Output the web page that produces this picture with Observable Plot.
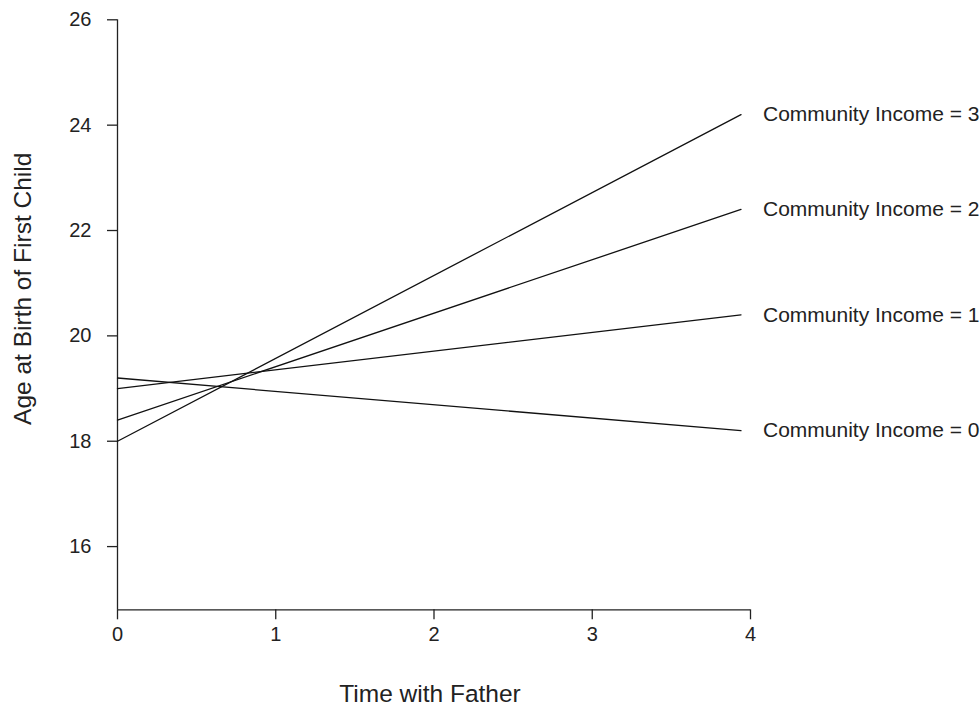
<!DOCTYPE html>
<html>
<head>
<meta charset="utf-8">
<script src="https://cdn.jsdelivr.net/npm/d3@7"></script>
<script src="https://cdn.jsdelivr.net/npm/@observablehq/plot@0.6"></script>
<style>
  html, body { margin: 0; padding: 0; background: #fff; }
  #chart { width: 980px; height: 706px; }
</style>
</head>
<body>
<div id="chart"></div>
<script>
// Data
const incomeLevels = [0, 1, 2, 3];
const ageAtStart = [19.2, 19.0, 18.4, 18.0];   // age at Time with Father = 0
const ageAtEnd = [18.2, 20.4, 22.4, 24.2];     // age at Time with Father = timeEnd
const timeStart = 0;
const timeEnd = 3.94;
const xTicks = [0, 1, 2, 3, 4];
const yTicks = [16, 18, 20, 22, 24, 26];
const xDomain = [0, 4];
const yDomain = [14.8, 26];

const rows = incomeLevels.flatMap((inc, i) => [
  {income: inc, time: timeStart, age: ageAtStart[i]},
  {income: inc, time: timeEnd, age: ageAtEnd[i]}
]);
const endRows = incomeLevels.map((inc, i) => ({
  income: inc, time: timeEnd, age: ageAtEnd[i], label: `Community Income = ${inc}`
}));

const ink = "#222";

const chart = Plot.plot({
  width: 980,
  height: 706,
  marginLeft: 117,
  marginRight: 230,
  marginTop: 19.3,
  marginBottom: 96.7,
  x: {domain: xDomain},
  y: {domain: yDomain},
  style: {fontFamily: "'Liberation Sans', Arial, sans-serif", background: "#fff", color: ink, overflow: "visible"},
  marks: [
    Plot.ruleX([xDomain[0]], {y1: yDomain[0], y2: yDomain[1], stroke: ink, strokeWidth: 1.3}),
    Plot.ruleY([yDomain[0]], {x1: xDomain[0], x2: xDomain[1], stroke: ink, strokeWidth: 1.3}),
    Plot.axisX({ticks: xTicks, tickSize: 10, tickPadding: 7, fontSize: 20, label: null, stroke: ink, strokeWidth: 1.3, tickFormat: d => String(d)}),
    Plot.axisY({ticks: yTicks, tickSize: 10, tickPadding: 16, fontSize: 20, label: null, stroke: ink, strokeWidth: 1.3, tickFormat: d => String(d)}),
    Plot.line(rows, {x: "time", y: "age", z: "income", stroke: "#111", strokeWidth: 1.3}),
    Plot.text(endRows, {x: "time", y: "age", text: "label", dx: 22, textAnchor: "start", fontSize: 21, fill: ink}),
    Plot.text(["Time with Father"], {frameAnchor: "bottom", textAnchor: "middle", lineAnchor: "middle", dx: -4, dy: 84, fontSize: 24.5, fill: ink}),
    Plot.text(["Age at Birth of First Child"], {frameAnchor: "left", textAnchor: "middle", lineAnchor: "middle", rotate: -90, dx: -94, dy: -26, fontSize: 24.5, fill: ink})
  ]
});
document.getElementById("chart").appendChild(chart);
</script>
</body>
</html>
